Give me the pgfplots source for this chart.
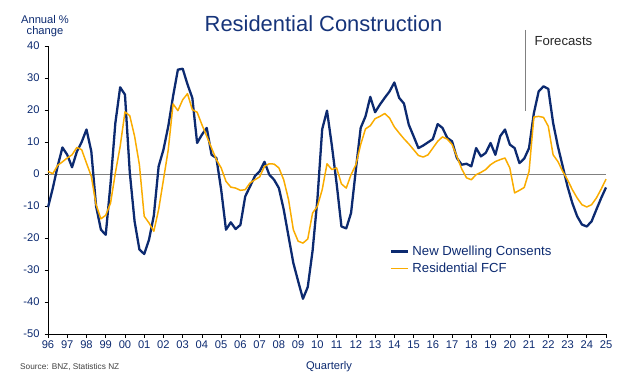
\documentclass[border=0pt]{standalone}
\usepackage{pgfplots}
\pgfplotsset{compat=1.18}
\usepackage{pgfplotstable}
\usepackage{fontspec}
\setmainfont{Liberation Sans}
\definecolor{navy}{RGB}{12,42,112}
\definecolor{titleblue}{RGB}{22,52,122}
\definecolor{gold}{RGB}{250,172,0}
\definecolor{zerogray}{RGB}{128,128,128}

\pgfplotstableread{
t ndc fcf
0.00 -10.4 0.8
0.25 -4.4 0.1
0.50 2.4 2.7
0.75 8.3 3.8
1.00 6.0 5.0
1.25 2.1 6.0
1.50 7.0 8.3
1.75 10.0 7.6
2.00 13.9 3.4
2.25 7.1 -0.7
2.50 -10.1 -9.6
2.75 -17.4 -14.0
3.00 -19.0 -12.9
3.25 -3.0 -9.1
3.50 15.9 0.3
3.75 27.1 8.6
4.00 24.8 19.4
4.25 0.5 18.2
4.50 -14.8 11.8
4.75 -23.6 2.9
5.00 -25.0 -13.2
5.25 -20.5 -15.3
5.50 -13.0 -17.9
5.75 2.4 -11.1
6.00 7.6 -1.8
6.25 14.9 7.6
6.50 24.3 21.9
6.75 32.6 19.8
7.00 32.9 23.2
7.25 28.0 25.1
7.50 23.8 20.1
7.75 9.7 19.3
8.00 12.3 15.4
8.25 14.4 11.8
8.50 6.0 8.1
8.75 5.0 4.5
9.00 -4.9 1.9
9.25 -17.4 -2.3
9.50 -15.1 -4.1
9.75 -17.2 -4.4
10.00 -15.9 -5.1
10.25 -7.0 -4.9
10.50 -3.9 -2.8
10.75 -0.7 -1.8
11.00 0.8 -0.9
11.25 3.8 2.4
11.50 -0.2 3.2
11.75 -1.8 3.1
12.00 -4.4 1.9
12.25 -11.1 -1.8
12.50 -19.5 -8.0
12.75 -27.8 -17.4
13.00 -33.5 -21.0
13.25 -39.0 -21.6
13.50 -35.3 -20.3
13.75 -24.0 -12.2
14.00 -8.0 -10.1
14.25 14.0 -4.9
14.50 19.8 3.2
14.75 9.0 1.4
15.00 -3.0 1.9
15.25 -16.4 -3.1
15.50 -17.0 -4.4
15.75 -12.2 -0.2
16.00 1.4 2.9
16.25 14.4 9.2
16.50 18.0 14.1
16.75 24.1 15.1
17.00 19.3 17.3
17.25 21.7 18.0
17.50 23.8 18.9
17.75 25.8 17.5
18.00 28.6 14.7
18.25 23.8 12.8
18.50 22.0 11.0
18.75 15.4 9.4
19.00 11.8 7.6
19.25 8.1 5.8
19.50 8.9 5.3
19.75 9.9 6.0
20.00 10.9 8.1
20.25 15.6 10.2
20.50 14.4 11.6
20.75 11.3 10.9
21.00 10.2 9.2
21.25 5.0 5.5
21.50 2.9 1.6
21.75 3.2 -1.2
22.00 2.4 -1.8
22.25 8.1 -0.2
22.50 5.5 0.5
22.75 6.6 1.4
23.00 9.7 2.9
23.25 6.0 3.9
23.50 11.8 4.5
23.75 13.9 5.0
24.00 9.2 1.9
24.25 8.1 -5.9
24.50 3.4 -5.1
24.75 4.8 -4.2
25.00 8.1 0.8
25.25 19.0 17.8
25.50 25.8 18.0
25.75 27.4 17.7
26.00 26.6 14.9
26.25 16.0 6.0
26.50 8.6 3.9
26.75 2.4 0.8
27.00 -3.9 -1.8
27.25 -9.1 -4.9
27.50 -13.2 -7.5
27.75 -15.8 -9.6
28.00 -16.4 -10.3
28.25 -14.8 -9.6
28.50 -11.1 -7.5
28.75 -7.5 -4.7
29.00 -4.2 -1.6
}\datatable

\begin{document}
\begin{tikzpicture}[x=1bp,y=1bp]
\useasboundingbox (0,0) rectangle (637,386);
\begin{axis}[
  at={(48bp,52bp)}, anchor=south west,
  scale only axis, width=558bp, height=288bp,
  xmin=0, xmax=29, ymin=-50, ymax=40,
  xtick={0,1,...,29},
  xticklabels={96,97,98,99,00,01,02,03,04,05,06,07,08,09,10,11,12,13,14,15,16,17,18,19,20,21,22,23,24,25},
  ytick={-50,-40,...,40},
  axis x line=bottom, axis y line=left,
  axis line style={-, black, line width=0.8pt},
  tick align=outside, major tick length=3.5bp,
  tick style={black, line width=0.6pt},
  ticklabel style={font=\fontsize{11.2}{13}\selectfont, text=navy},
  yticklabel style={xshift=-1.5bp},
  /pgf/number format/assume math mode=true,
  clip=false,
  legend style={draw=none, fill=none, at={(0.612,0.313)}, anchor=north west,
    font=\fontsize{13.2}{15}\selectfont, text=navy, row sep=2bp,
    inner sep=0pt, cells={anchor=west},
    nodes={inner xsep=3.5bp}},
  legend cell align=left,
  legend image code/.code={\draw[#1] (0bp,0bp) -- (17bp,0bp);},
]
\addplot[zerogray, line width=0.8pt, forget plot] coordinates {(0,0) (29,0)};
\addplot[navy, line width=2.3pt, line join=round] table[x=t, y=ndc] {\datatable};
\addlegendentry{New Dwelling Consents}
\addplot[gold, line width=1.5pt, line join=round] table[x=t, y=fcf] {\datatable};
\addlegendentry{Residential FCF}
\draw[zerogray, line width=0.8pt] (axis cs:24.81,45) -- (axis cs:24.81,19.7);
\end{axis}
\node[anchor=base, text=titleblue, font=\fontsize{22}{26}\selectfont] at (323.5,354.3) {Residential Construction};
\node[anchor=base, text=navy, font=\fontsize{11.2}{13}\selectfont, inner sep=0pt] at (45,362.7) {Annual \%};
\node[anchor=base, text=navy, font=\fontsize{11.2}{13}\selectfont, inner sep=0pt] at (45,351.7) {change};
\node[anchor=base west, text=black!85, font=\fontsize{13.2}{15}\selectfont, inner sep=0pt] at (534.3,340.3) {Forecasts};
\node[anchor=base, text=navy, font=\fontsize{11.2}{13}\selectfont, inner sep=0pt] at (329,16.7) {Quarterly};
\node[anchor=base west, text=black!75, font=\fontsize{8.3}{10}\selectfont, inner sep=0pt] at (20,17) {Source: BNZ, Statistics NZ};
\end{tikzpicture}
\end{document}
